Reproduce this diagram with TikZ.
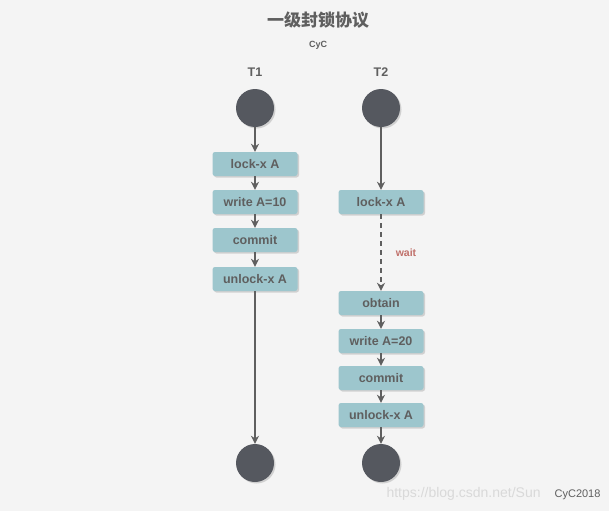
\documentclass[tikz,border=0pt]{standalone}
\usepackage{fontspec}
\setmainfont{Liberation Sans}
\newfontfamily\cjk{Noto Sans CJK SC}
\usetikzlibrary{arrows.meta,shadows}
\definecolor{bg}{HTML}{F4F4F4}
\definecolor{boxc}{HTML}{9DC6CD}
\definecolor{txt}{HTML}{5F5F5F}
\definecolor{circ}{HTML}{55585F}
\definecolor{waitc}{HTML}{C0706A}
\begin{document}
\begin{tikzpicture}[x=1pt,y=-1pt,
  stepbox/.style={draw=none,fill=boxc,rounded corners=2.5pt,minimum width=85pt,minimum height=24pt,font=\bfseries\fontsize{12.5}{14}\selectfont,text=txt,drop shadow={shadow xshift=1.5pt,shadow yshift=-1.5pt,opacity=0.3}},
  dot/.style={circle,fill=circ,minimum size=38pt,inner sep=0pt,drop shadow={shadow xshift=1.5pt,shadow yshift=-1.5pt,opacity=0.3}},
  arr/.style={draw=txt,line width=1.4pt,-{Stealth[length=8pt,width=8pt]}}]
\fill[bg] (0,0) rectangle (609,511);
\node[font=\cjk\bfseries\fontsize{17}{20}\selectfont,text=txt] (title) at (318,20) {一级封锁协议};
\node[font=\bfseries\fontsize{9}{10}\selectfont,text=txt] (cyc) at (318,45) {CyC};
\node[font=\bfseries\fontsize{12.5}{14}\selectfont,text=txt] (t1) at (255,72) {T1};
\node[font=\bfseries\fontsize{12.5}{14}\selectfont,text=txt] (t2) at (381,72) {T2};
\node[dot] (s1) at (255,108) {};
\node[dot] (s2) at (381,108) {};
\node[stepbox] (a1) at (255,164) {lock-x A};
\node[stepbox] (a2) at (255,202) {write A=10};
\node[stepbox] (a3) at (255,240) {commit};
\node[stepbox] (a4) at (255,279) {unlock-x A};
\node[dot] (e1) at (255,463) {};
\node[stepbox] (b1) at (381,202) {lock-x A};
\node[stepbox] (b2) at (381,303) {obtain};
\node[stepbox] (b3) at (381,341) {write A=20};
\node[stepbox] (b4) at (381,378) {commit};
\node[stepbox] (b5) at (381,415) {unlock-x A};
\node[dot] (e2) at (381,463) {};
\node[font=\bfseries\fontsize{10.5}{12}\selectfont,text=waitc] (w) at (406,253) {wait};
\draw[arr] (s1) -- (a1);
\draw[arr] (a1) -- (a2);
\draw[arr] (a2) -- (a3);
\draw[arr] (a3) -- (a4);
\draw[arr] (a4) -- (e1);
\draw[arr] (s2) -- (b1);
\draw[arr,dash pattern=on 5pt off 4pt] (b1) -- (b2);
\draw[arr] (b2) -- (b3);
\draw[arr] (b3) -- (b4);
\draw[arr] (b4) -- (b5);
\draw[arr] (b5) -- (e2);
\node[font=\fontsize{14}{16}\selectfont,text=white!70!gray,anchor=east] (wm) at (604,494) {https://blog.csdn.net/Sun\quad\textcolor{txt}{\fontsize{11}{12}\selectfont CyC2018}};
\end{tikzpicture}
\end{document}
